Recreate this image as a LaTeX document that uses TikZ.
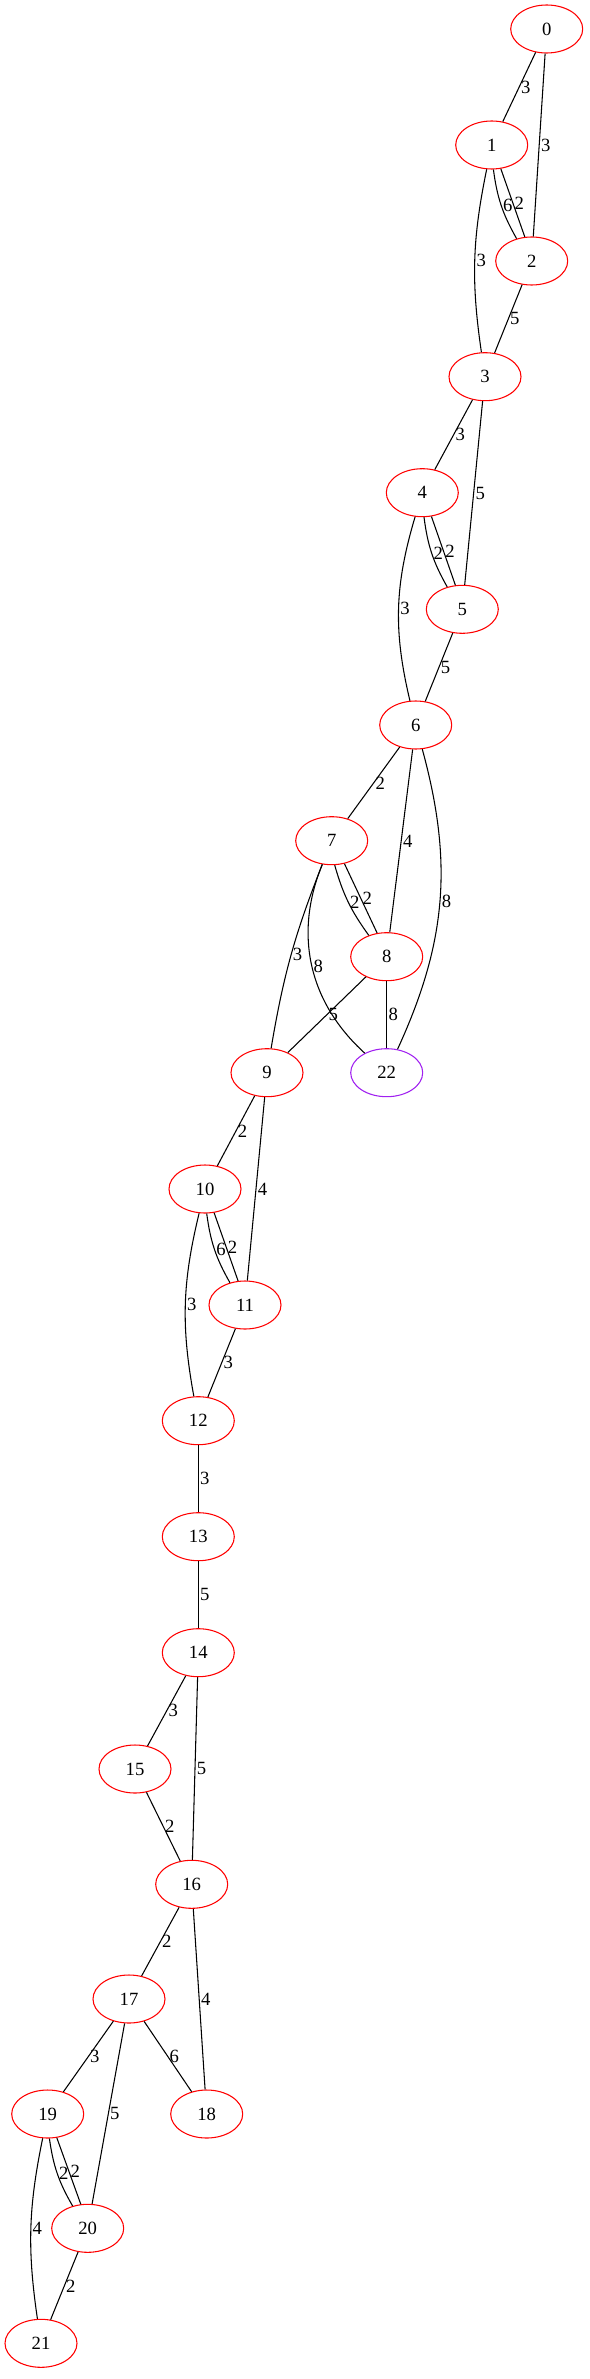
\documentclass[tikz,border=0pt]{standalone}
\usepackage{fontspec}
\setmainfont{Liberation Serif}
\usetikzlibrary{shapes.geometric}
\definecolor{NodeRed}{HTML}{FF0000}
\definecolor{NodePurple}{HTML}{A020F0}
\tikzset{every node/.style={font=\fontsize{14}{16}\selectfont},
 vertex/.style={ellipse,draw=NodeRed,line width=0.8pt,minimum width=54pt,
 minimum height=36pt,inner sep=0pt},goal/.style={vertex,draw=NodePurple},
 wt/.style={anchor=west,inner sep=1pt},link/.style={draw=black,line width=0.8pt}}
\begin{document}
\begin{tikzpicture}[x=0.75pt,y=-0.75pt]
\useasboundingbox (0,0) rectangle (589,2379);
\foreach \n/\x/\y in {0/546.7/29,1/491.7/145,2/531.7/261,3/485/376.7,4/422.3/492.7,
 5/462.3/609.3,6/415.7/725,7/331.7/840.7,8/386.7/956.7,9/267/1072.7,10/205/1189,
 11/245/1305,12/198.3/1420.7,13/198.3/1536.7,14/198.3/1652.7,15/135/1769,
 16/191.7/1884.3,17/129/1999,18/206.7/2114,19/47.7/2114,20/87.7/2228.3,21/41/2343.3}
 {\node[vertex] (n\n) at (\x,\y) {\n};}
\node[goal] (n22) at (386.7,1072.7) {22};
\foreach \a/\b/\w in {0/1/3,0/2/3,2/3/5,3/4/3,3/5/5,5/6/5,6/7/2,6/8/4,
 8/9/5,8/22/8,9/10/2,9/11/4,11/12/3,12/13/3,13/14/5,14/15/3,14/16/5,
 15/16/2,16/17/2,16/18/4,17/19/3,17/20/5,17/18/6,20/21/2}
 {\draw[link] (n\a) -- node[wt]{\w} (n\b);}
\foreach \a/\b/\w/\t in {1/3/3/10,4/6/3/15,7/9/3/6,7/22/8/35,10/12/3/12,19/21/4/10}
 {\draw[link] (n\a) to[bend right=\t] node[wt]{\w} (n\b);}
\draw[link] (n6) to[bend left=20] node[wt]{8} (n22);
\foreach \a/\b/\w in {1/2/6,4/5/2,10/11/6,19/20/2}
 {\draw[link] (n\a.-86) to[bend right=11] node[wt]{\w} (n\b.124);
  \draw[link] (n\a.-69) -- node[wt]{2} (n\b.106);}
\draw[link] (n7.-83) to[bend right=10] node[wt]{2} (n8.130);
\draw[link] (n7.-61) -- node[wt]{2} (n8.112);
\end{tikzpicture}
\end{document}
